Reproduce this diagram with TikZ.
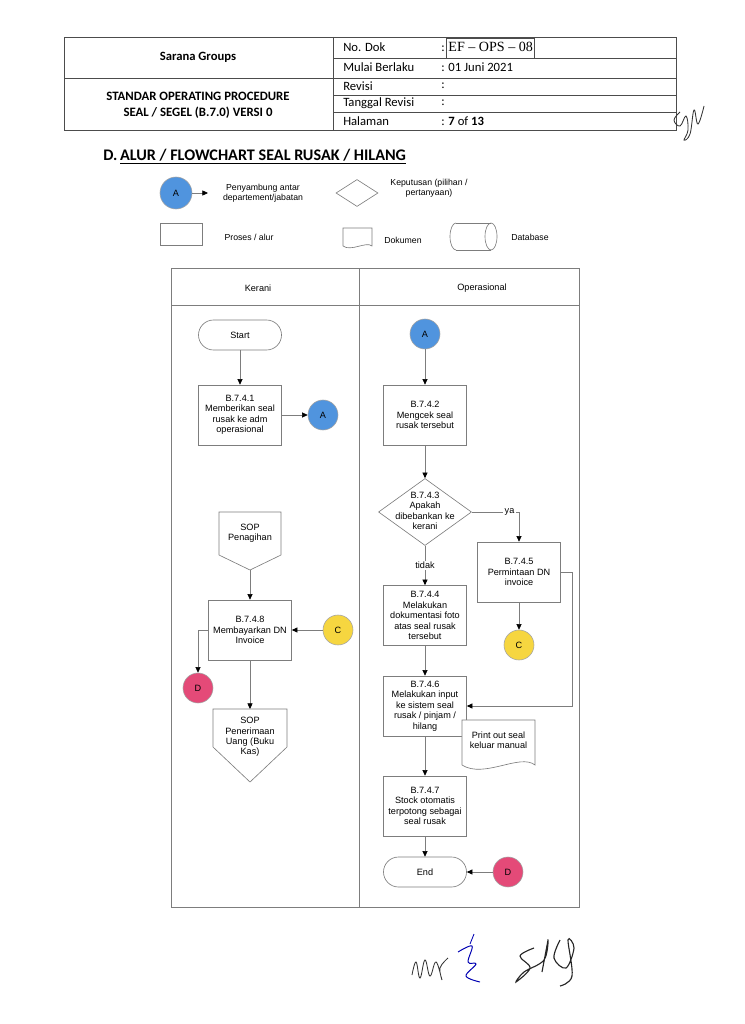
\documentclass[tikz,border=0pt]{standalone}
\usepackage{fontspec}
\setmainfont{Liberation Sans}
\newfontfamily\hdrfont{Carlito}
\newfontfamily\serfont{Liberation Serif}
\usetikzlibrary{arrows.meta,calc,positioning,shapes.geometric}
\definecolor{conA}{RGB}{80,148,222}
\definecolor{conC}{RGB}{246,214,64}
\definecolor{conD}{RGB}{228,74,120}
\definecolor{lineg}{RGB}{125,125,125}
\newcommand{\fsz}{\fontsize{6.5}{7.4}\selectfont}
\newcommand{\lsz}{\fontsize{6.2}{7.2}\selectfont}
\tikzset{
  ln/.style={draw=lineg, line width=0.45pt},
  arr/.style={ln, -{Triangle[length=4pt,width=3.6pt,color=black]}},
  tbl/.style={draw=black!70, line width=0.5pt},
  proc/.style={rectangle, draw=lineg, line width=0.45pt, fill=white,
    minimum width=2.075cm, minimum height=1.5cm, inner sep=1pt,
    align=center, font=\fsz},
  term/.style={proc, rounded corners=0.375cm, minimum height=0.75cm},
  conn/.style={circle, draw=lineg!70, minimum size=0.75cm, inner sep=0pt,
    font=\fsz},
  decision/.style={diamond, draw=lineg, line width=0.45pt,
    minimum width=2.325cm, minimum height=1.675cm, inner sep=0pt},
  txt/.style={align=center, font=\fsz, inner sep=0pt},
  lgtxt/.style={align=center, font=\lsz, inner sep=0pt},
  hdr/.style={font=\hdrfont\fontsize{9}{11}\selectfont, inner sep=0pt},
  frame/.style={draw=none, inner sep=0pt, outer sep=0pt},
}

\begin{document}
\begin{tikzpicture}[x=0.025cm, y=-0.025cm]
\useasboundingbox (0,0) rectangle (744,1024);

%% Header table
\draw[tbl] (64,37) rectangle (676,130);
\draw[tbl] (333,37) -- (333,130);
\draw[tbl] (64,78) -- (676,78);
\draw[tbl] (333,58) -- (676,58);
\draw[tbl] (333,95) -- (676,95);
\draw[tbl] (333,112) -- (676,112);
\draw[tbl] (446,38) rectangle (534,58);
\node[hdr, font=\hdrfont\bfseries\fontsize{9}{11}\selectfont] (company) at (198,57) {Sarana Groups};
\node[hdr, font=\hdrfont\bfseries\fontsize{9.1}{11.4}\selectfont, align=center] (soptitle) at (198,105)
  {STANDAR OPERATING PROCEDURE\\SEAL / SEGEL (B.7.0) VERSI 0};
\node[hdr, anchor=west] (nodok) at (343,47) {No. Dok};
\node[hdr, anchor=west] (mulai) at (343,67) {Mulai Berlaku};
\node[hdr, anchor=west] (revisi) at (343,86) {Revisi};
\node[hdr, anchor=west] (tglrev) at (343,103) {Tanggal Revisi};
\node[hdr, anchor=west] (halaman) at (343,121) {Halaman};
\node[hdr, anchor=west] (nodokv) at (441,47) {: {\serfont\fontsize{10}{12}\selectfont EF – OPS – 08}};
\node[hdr, anchor=west] (mulaiv) at (441,67) {: 01 Juni 2021};
\node[hdr, anchor=west] (revisiv) at (441,86) {:};
\node[hdr, anchor=west] (tglrevv) at (441,103) {:};
\node[hdr, anchor=west] (halamanv) at (441,121) {: \textbf{7} of \textbf{13}};

%% Section title
\node[anchor=west, inner sep=0pt, font=\hdrfont\bfseries\fontsize{11.5}{13}\selectfont] (title) at (103,157)
  {D.\,\underline{ALUR / FLOWCHART SEAL RUSAK / HILANG}};

%% Legend
\node[conn, fill=conA, minimum size=0.8cm] (lgA) at (176,193) {A};
\coordinate (lgAend) at (208,193);
\draw[arr] (lgA) -- (lgAend);
\node[lgtxt] (lgAt) at (263,193) {Penyambung antar\\departement/jabatan};
\node[decision, minimum width=1.05cm, minimum height=0.675cm] (lgdec) at (357,193) {};
\node[lgtxt] (lgdect) at (429,188) {Keputusan (pilihan /\\pertanyaan)};
\node[proc, minimum width=1.05cm, minimum height=0.55cm] (lgproc) at (181,234) {};
\node[lgtxt] (lgproct) at (249,237) {Proses / alur};
\node[frame, minimum width=0.725cm, minimum height=0.45cm] (lgdoc) at (357.5,237) {};
\draw[ln] (lgdoc.north west) -- (lgdoc.north east) -- (lgdoc.south east)
  .. controls +(-6,-5) and +(8,6) .. (lgdoc.south west) -- cycle;
\node[lgtxt] (lgdoct) at (403,240) {Dokumen};
\node[frame, minimum width=0.875cm, minimum height=0.675cm] (lgdb) at (473.5,236.5) {};
\draw[ln] (lgdb.north west) -- (lgdb.north east) (lgdb.south west) -- (lgdb.south east);
\draw[ln] (lgdb.east) ellipse [x radius=6, y radius=13.5];
\draw[ln] (lgdb.north west) arc[start angle=270, end angle=90, x radius=6, y radius=13.5];
\node[lgtxt] (lgdbt) at (530,237) {Database};

%% Swimlanes
\draw[ln] (171,268) rectangle (579,907);
\draw[ln] (171,305) -- (579,305);
\draw[ln] (359,268) -- (359,907);
\node[txt] (laneK) at (258,288) {Kerani};
\node[txt] (laneO) at (482,288) {Operasional};

%% Kerani
\node[term] (start) at (240,335) {Start};
\node[proc] (b741) at (240,415) {B.7.4.1\\Memberikan seal\\rusak ke adm\\operasional};
\node[conn, fill=conA] (a1) at (323,415) {A};
\node[frame, minimum width=1.55cm, minimum height=1.45cm] (sop1) at (250,541) {};
\draw[ln] (sop1.north west) -- (sop1.north east) -- ($(sop1.south east)+(0,-15)$)
  -- (sop1.south) -- ($(sop1.south west)+(0,-15)$) -- cycle;
\node[txt] (sop1t) at (250,533) {SOP\\Penagihan};
\node[proc] (b748) at (250,630) {B.7.4.8\\Membayarkan DN\\Invoice};
\node[conn, fill=conC] (c1) at (338,630) {C};
\node[conn, fill=conD] (d1) at (198,688) {D};
\node[frame, minimum width=1.85cm, minimum height=1.825cm] (sop2) at (250,745.5) {};
\draw[ln] (sop2.north west) -- (sop2.north east) -- ($(sop2.south east)+(0,-35)$)
  -- (sop2.south) -- ($(sop2.south west)+(0,-35)$) -- cycle;
\node[txt] (sop2t) at (250,737) {SOP\\Penerimaan\\Uang (Buku\\Kas)};

\draw[arr] (start) -- (b741);
\draw[arr] (b741) -- (a1);
\draw[arr] (sop1.south) -- (b748.north);
\draw[arr] (c1) -- (b748);
\draw[arr] (b748.west) -| (d1.north);
\draw[arr] (b748.south) -- (sop2.north);

%% Operasional
\node[conn, fill=conA] (a2) at (425,334) {A};
\node[proc] (b742) at (425,415) {B.7.4.2\\Mengcek seal\\rusak tersebut};
\node[decision] (b743) at (425,512) {};
\node[txt] (b743t) at (425,511) {B.7.4.3\\Apakah\\dibebankan ke\\kerani};
\node[proc] (b744) at (425,615.5) {B.7.4.4\\Melakukan\\dokumentasi foto\\atas seal rusak\\tersebut};
\node[proc] (b745) at (519,572) {B.7.4.5\\Permintaan DN\\invoice};
\node[conn, fill=conC] (c2) at (519,645) {C};
\node[proc] (b746) at (425,706) {B.7.4.6\\Melakukan input\\ke sistem seal\\rusak / pinjam /\\hilang};
\node[frame, minimum width=1.825cm, minimum height=1.125cm] (doc) at (498.5,742.5) {};
\draw[ln, fill=white] (doc.north west) -- (doc.north east) -- (doc.south east)
  .. controls +(-15,-12) and +(22,14) .. (doc.south west) -- cycle;
\node[txt] (doct) at (498.5,740) {Print out seal\\keluar manual};
\node[proc] (b747) at (425,806) {B.7.4.7\\Stock otomatis\\terpotong sebagai\\seal rusak};
\node[term] (end) at (425,872) {End};
\node[conn, fill=conD] (d2) at (508,872) {D};

\draw[arr] (a2) -- (b742);
\draw[arr] (b742) -- (b743);
\draw[arr] (b743.east) -| node[pos=0.4, fill=white, txt, inner sep=1pt] (ya) {ya} (b745.north);
\draw[arr] (b743.south) -- node[pos=0.5, fill=white, txt, inner sep=1pt] (tidak) {tidak} (b744.north);
\draw[arr] (b745) -- (c2);
\draw[arr] (b744) -- (b746);
\draw[arr] (b745.east) -- ++(11,0) |- (b746.east);
\draw[arr] (b746) -- (b747);
\draw[arr] (b747) -- (end);
\draw[arr] (d2) -- (end);

%% Signatures
\draw[black!80, line width=0.6pt] plot[smooth, tension=0.7] coordinates
  {(680,112) (674,120) (680,126) (686,116) (688,130) (684,140) (690,134) (694,110) (698,124) (704,106)};
\draw[black!80, line width=0.6pt] plot[smooth, tension=0.7] coordinates
  {(412,975) (416,962) (420,978) (425,960) (430,976) (436,962) (442,980) (440,968) (448,958)};
\draw[blue!70!black, line width=0.7pt] plot[smooth, tension=0.6] coordinates
  {(458,952) (472,946) (468,962) (476,964) (466,976) (480,982)};
\draw[blue!70!black, line width=0.6pt] (470,944) -- (474,934);
\draw[black!85, line width=0.8pt] plot[smooth, tension=0.6] coordinates
  {(534,948) (520,956) (530,968) (516,982) (524,972) (544,960) (548,940) (542,972)};
\draw[black!85, line width=0.8pt] plot[smooth, tension=0.6] coordinates
  {(560,940) (554,958) (566,968) (574,948) (568,940) (572,976) (560,986)};
\end{tikzpicture}
\end{document}
